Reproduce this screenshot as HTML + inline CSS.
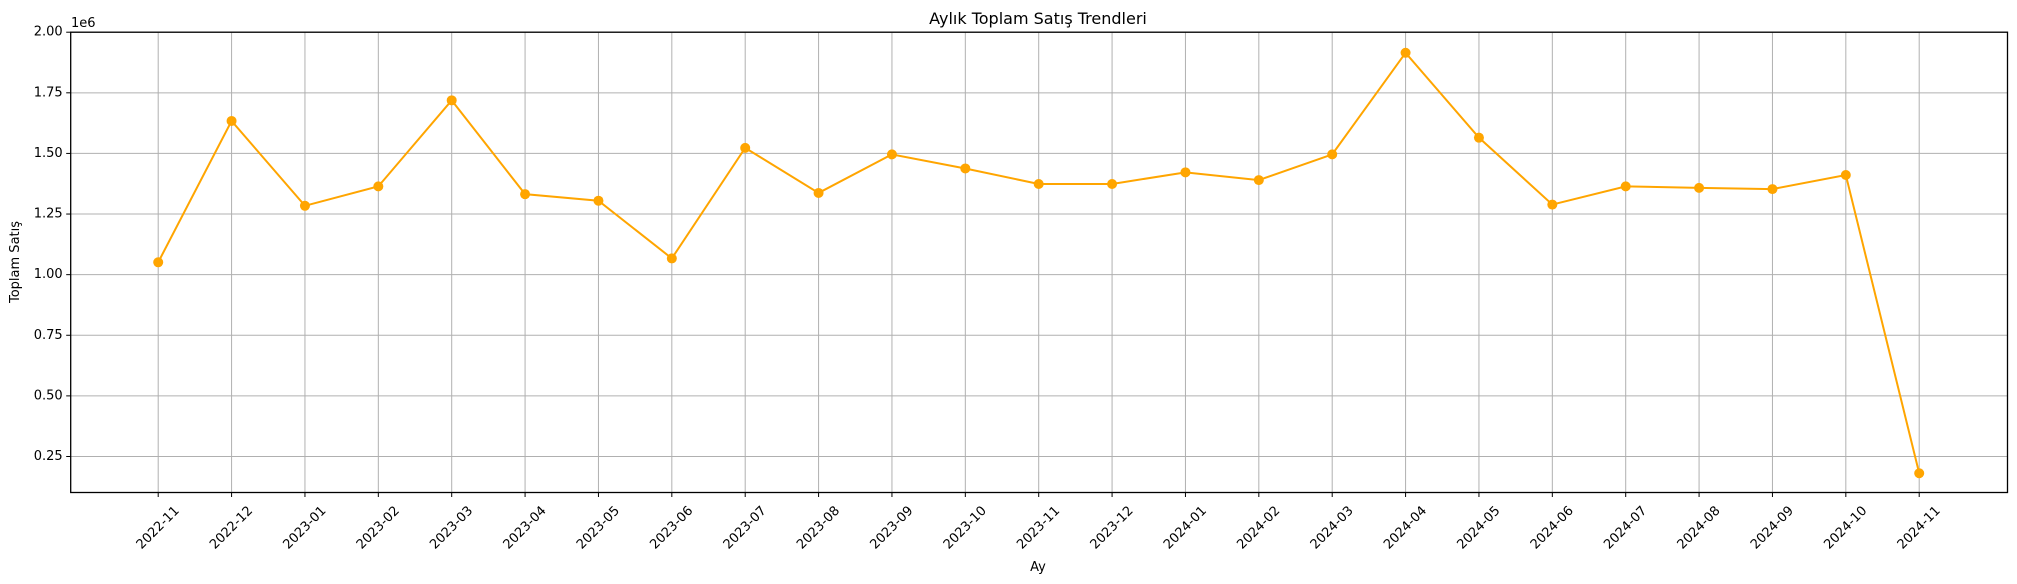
<!DOCTYPE html>
<html><head><meta charset="utf-8"><style>
html,body{margin:0;padding:0;background:#fff;}
svg{display:block;font-family:"DejaVu Sans","Liberation Sans",sans-serif;}
</style></head><body>
<svg id="chart" width="2017" height="584" viewBox="0 0 2017 584">
<rect x="0" y="0" width="2017" height="584" fill="#fff"/>
<g id="grid"></g>
<g id="series"></g>
<rect x="70.7" y="32.2" width="1936.8" height="460.3" fill="none" stroke="#000" stroke-width="1.3"/>
<g id="xticks"></g>
<g id="yticks"></g>
<text x="1038" y="24" font-size="16" text-anchor="middle">Aylık Toplam Satış Trendleri</text>
<text x="1038" y="571" font-size="13" text-anchor="middle">Ay</text>
<text x="0" y="0" font-size="13" text-anchor="middle" transform="translate(19,262) rotate(-90)">Toplam Satış</text>
<text x="71" y="27" font-size="13">1e6</text>
</svg>
<script>
const categories = ["2022-11","2022-12","2023-01","2023-02","2023-03","2023-04","2023-05","2023-06","2023-07","2023-08","2023-09","2023-10","2023-11","2023-12","2024-01","2024-02","2024-03","2024-04","2024-05","2024-06","2024-07","2024-08","2024-09","2024-10","2024-11"];
const salesValues = [1.051,1.634,1.284,1.364,1.719,1.332,1.305,1.067,1.523,1.337,1.496,1.438,1.374,1.374,1.422,1.390,1.496,1.915,1.565,1.289,1.364,1.358,1.353,1.411,0.181];
const yTickValues = [0.25,0.50,0.75,1.00,1.25,1.50,1.75,2.00];
const yTickLabels = ["0.25","0.50","0.75","1.00","1.25","1.50","1.75","2.00"];

const NS="http://www.w3.org/2000/svg";
const L=70.7,R=2007.5,T=32.2,B=492.5;
const yMin=0.1015,yMax=2.0;
const x0=158.2,dx=73.375;
function xs(i){return x0+i*dx;}
function ys(v){return B-(v-yMin)/(yMax-yMin)*(B-T);}
function mk(tag,attrs,parent){const e=document.createElementNS(NS,tag);for(const k in attrs)e.setAttribute(k,attrs[k]);parent.appendChild(e);return e;}
const grid=document.getElementById('grid'),xt=document.getElementById('xticks'),yt=document.getElementById('yticks'),ser=document.getElementById('series');
categories.forEach((c,i)=>{
  const x=xs(i);
  const g=mk('line',{x1:x,x2:x,y1:T,y2:B,stroke:'#b0b0b0','stroke-width':1},grid);
  
  
  const t=mk('line',{x1:x,x2:x,y1:B,y2:B+4.5,stroke:'#000','stroke-width':1},xt);
  
  
  const tx=mk('text',{x:0,y:0,'font-size':13,'text-anchor':'middle','dominant-baseline':'central',transform:`translate(${x},${528}) rotate(-45)`},xt);
  tx.textContent=c;
  
  
});
yTickValues.forEach((v,i)=>{
  const y=ys(v);
  const g=mk('line',{x1:L,x2:R,y1:y,y2:y,stroke:'#b0b0b0','stroke-width':1},grid);
  
  
  const t=mk('line',{x1:L-4.5,x2:L,y1:y,y2:y,stroke:'#000','stroke-width':1},yt);
  
  
  const tx=mk('text',{x:L-8,y:y,'font-size':13,'text-anchor':'end','dominant-baseline':'central'},yt);
  tx.textContent=yTickLabels[i];
  
  
});
const pts=salesValues.map((v,i)=>xs(i)+','+ys(v)).join(' ');
const pl=mk('polyline',{points:pts,fill:'none',stroke:'#ffa500','stroke-width':2},ser);


salesValues.forEach((v,i)=>{
  const c=mk('circle',{cx:xs(i),cy:ys(v),r:5,fill:'#ffa500'},ser);
  
  
});
</script>
</body></html>
